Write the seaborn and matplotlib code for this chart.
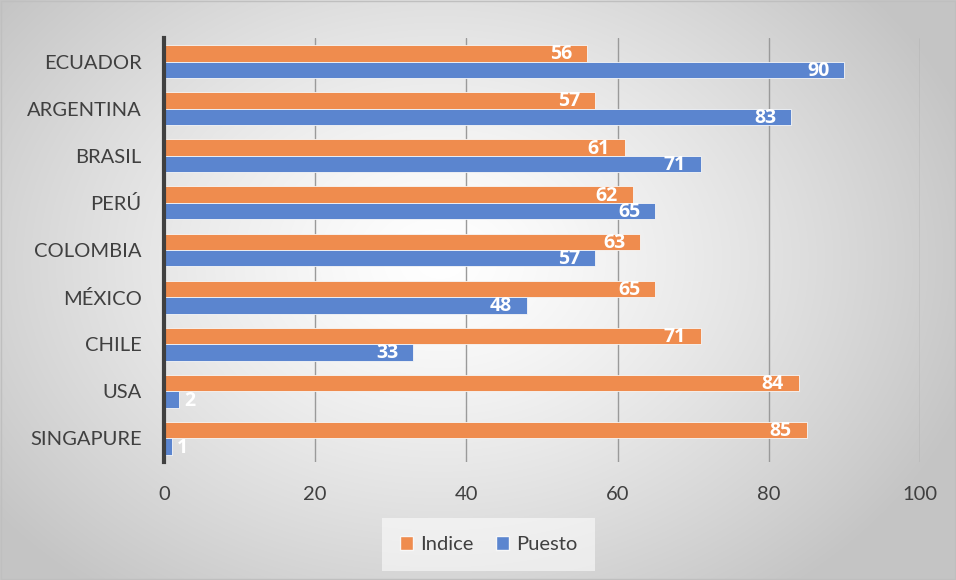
import numpy as np
import pandas as pd
import matplotlib
matplotlib.use("Agg")
import matplotlib.pyplot as plt
import seaborn as sns
from matplotlib.patches import Patch

countries = ["ECUADOR", "ARGENTINA", "BRASIL", "PERÚ", "COLOMBIA", "MÉXICO", "CHILE", "USA", "SINGAPURE"]
indice = [56, 57, 61, 62, 63, 65, 71, 84, 85]
puesto = [90, 83, 71, 65, 57, 48, 33, 2, 1]
series_names = ["Indice", "Puesto"]
colors = ["#EF8C4E", "#5B85CF"]
xticks = [0, 20, 40, 60, 80, 100]

df = pd.DataFrame({
    "country": countries * 2,
    "value": indice + puesto,
    "serie": [series_names[0]] * len(countries) + [series_names[1]] * len(countries),
})

sns.set_theme(style="white")
plt.rcParams["font.family"] = ["Lato", "DejaVu Sans"]

fig = plt.figure(figsize=(9.56, 5.8), dpi=100)

# radial gradient background
bg = fig.add_axes([0, 0, 1, 1], zorder=-10)
h, w = 580, 956
yy, xx = np.mgrid[0:h, 0:w]
cx, cy = 440, 260
r = np.sqrt(((xx - cx) / 560.0) ** 2 + ((yy - cy) / 420.0) ** 2)
r = np.clip(r, 0, 1)
val = 1.0 - 0.23 * r ** 1.3
img = np.dstack([val, val, val])
bg.imshow(img, aspect="auto", extent=[0, 1, 0, 1], origin="upper")
bg.set_xlim(0, 1); bg.set_ylim(0, 1)
bg.axis("off")
bg.add_patch(plt.Rectangle((0.001, 0.002), 0.998, 0.996, fill=False, edgecolor="#BFBFBF", lw=1.0,
                           transform=bg.transAxes))

ax = fig.add_axes([0.1715, 0.2034, 0.7908, 0.7311])
ax.patch.set_alpha(0)
sns.barplot(data=df, y="country", x="value", hue="serie", hue_order=series_names,
            palette=colors, orient="h", width=0.7, ax=ax, legend=False,
            edgecolor="#F7F7F7", linewidth=0.6, saturation=1)

ax.set_xlim(0, 100)
ax.set_ylim(8.5, -0.5)
ax.set_xticks(xticks)
ax.set_xticklabels([str(t) for t in xticks])
ax.set_xlabel("")
ax.set_ylabel("")
ax.grid(axis="x", color="#9A9A9A", lw=1.0)
ax.grid(axis="y", visible=False)
ax.set_axisbelow(True)
for s in ["top", "right", "bottom"]:
    ax.spines[s].set_visible(False)
ax.spines["left"].set_color("#404040")
ax.spines["left"].set_linewidth(3)
ax.tick_params(axis="both", length=0, labelsize=14.5, labelcolor="#404040")
ax.tick_params(axis="x", pad=17)
ax.tick_params(axis="y", pad=16)

# value labels
lab_font = ["Open Sans", "DejaVu Sans"]
for container in ax.containers:
    for bar in container:
        v = bar.get_width()
        yc = bar.get_y() + bar.get_height() / 2
        if v < 6:
            ax.annotate(f"{v:.0f}", (v, yc), xytext=(5, -1), textcoords="offset pixels",
                        ha="left", va="center", color="white",
                        fontsize=14, fontweight="bold", family=lab_font)
        else:
            ax.annotate(f"{v:.0f}", (v, yc), xytext=(-15, -1), textcoords="offset pixels",
                        ha="right", va="center", color="white",
                        fontsize=14, fontweight="bold", family=lab_font)

handles = [Patch(facecolor=c, edgecolor="#F7F7F7", label=n) for c, n in zip(colors, series_names)]
leg = fig.legend(handles=handles, loc="center", bbox_to_anchor=(0.511, 0.061), ncol=2,
                 frameon=True, fontsize=14.5, handlelength=0.65, handleheight=0.65,
                 handletextpad=0.35, columnspacing=1.1, borderpad=0.6)
leg.get_frame().set_facecolor("white")
leg.get_frame().set_alpha(0.55)
leg.get_frame().set_edgecolor("none")
leg.get_frame().set_boxstyle("square")
for t in leg.get_texts():
    t.set_color("#404040")

fig.savefig("out.png", dpi=100)
